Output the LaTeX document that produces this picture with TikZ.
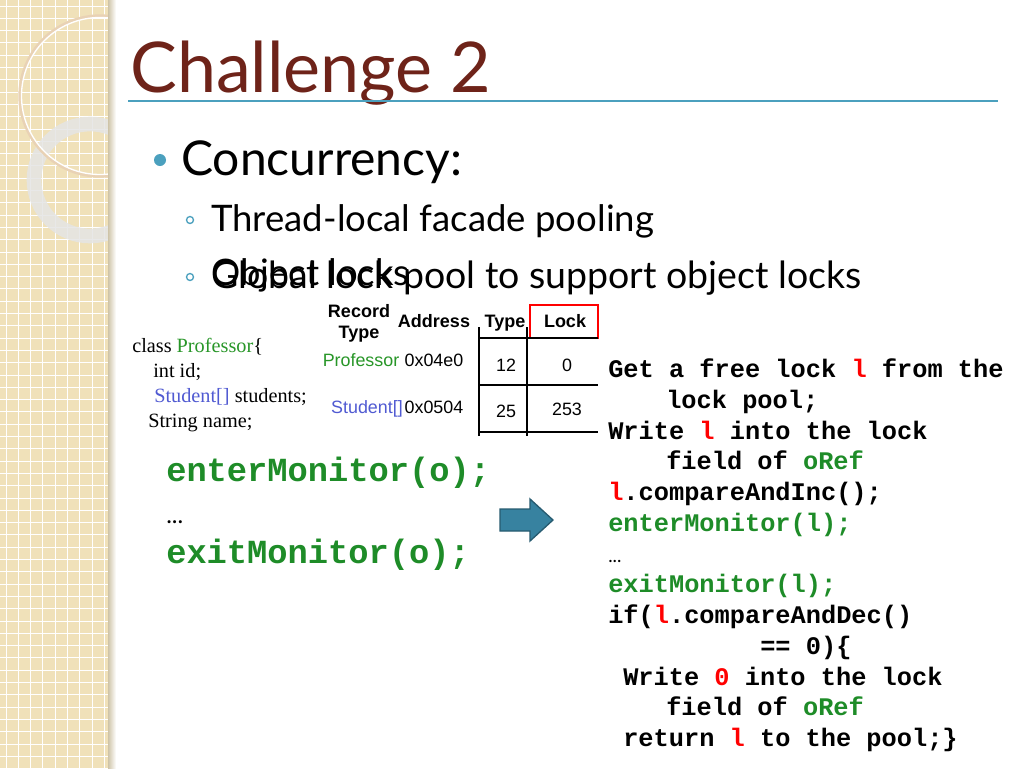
\documentclass[tikz,border=0pt]{standalone}
\usepackage{fontspec}
\setmainfont{Lato}
\newfontfamily\cmono{Liberation Mono}
\newfontfamily\tsans{Liberation Sans}
\newfontfamily\tserif{Liberation Serif}
\definecolor{strip}{RGB}{240,225,185}
\definecolor{teal}{RGB}{75,160,190}
\definecolor{titlec}{RGB}{110,35,25}
\definecolor{cg}{RGB}{30,140,40}
\definecolor{pg}{RGB}{40,150,40}
\definecolor{sb}{RGB}{80,90,210}
\definecolor{arrf}{RGB}{55,130,160}
\begin{document}
\begin{tikzpicture}[x=0.75pt,y=-0.75pt,
  code/.style={anchor=base west,inner sep=0,font=\cmono\bfseries\fontsize{19}{19}\selectfont},
  lcode/.style={anchor=base west,inner sep=0,text=cg,font=\cmono\bfseries\fontsize{25.3}{25}\selectfont},
  tab/.style={anchor=base,inner sep=0,font=\tsans\fontsize{13.4}{15}\selectfont},
  hd/.style={anchor=base,inner sep=0,font=\tsans\bfseries\fontsize{13.5}{15}\selectfont},
  ser/.style={anchor=base west,inner sep=0,font=\tserif\fontsize{15.2}{16}\selectfont}]
\useasboundingbox (0,0) rectangle (1024,768);
\fill[white] (0,0) rectangle (1024,768);
% strip
\fill[strip] (0,0) rectangle (112,768);
\foreach \i in {0,...,9} {\draw[white,line width=0.7] (\i*12.3+6,0) -- (\i*12.3+6,768);}
\foreach \i in {0,...,63} {\draw[white,line width=0.7] (0,\i*12.3+6) -- (112,\i*12.3+6);}
\begin{scope}
\clip (0,0) rectangle (112,768);
\draw[line width=11,gray!20,opacity=0.85] (90,180) circle (56);
\draw[line width=2.5,white!60!brown!70!strip] (100,96) circle (80);
\draw[line width=1,white] (100,96) circle (78.5);
\end{scope}
\fill[left color=strip!70!gray,right color=white] (108,0) rectangle (116,768);
% title
\node[anchor=base west,inner sep=0,text=titlec,font=\fontsize{52.5}{52}\selectfont] (title) at (130,92) {Challenge 2};
\draw[teal,line width=1.2] (128,101) -- (998,101);
\fill[teal] (160,160) circle (6) coordinate (b1);
\node[anchor=base west,inner sep=0,font=\fontsize{36}{36}\selectfont] (conc) at (181,175) {Concurrency:};
\draw[teal,line width=1] (190,220) circle (3.5);
\draw[teal,line width=1] (190,277) circle (3.5);
\node[anchor=base west,inner sep=0,font=\fontsize{27.4}{27}\selectfont] (s1) at (211,231) {Thread-local facade pooling};
\node[anchor=base west,inner sep=0,font=\fontsize{28.1}{28}\selectfont] (s2) at (211,288) {Global lock pool to support object locks};
\node[anchor=base west,inner sep=0,font=\fontsize{27.4}{27}\selectfont] (s3) at (211,285) {Object locks};
% class
\node[ser] (c1) at (132,352) {class \textcolor{pg}{Professor}\{};
\node[ser] (c2) at (153,377) {int id;};
\node[ser] (c3) at (154,402) {\textcolor{sb}{Student[]} students;};
\node[ser] (c4) at (148,427) {String name;};
% table
\node[hd] (h1a) at (359,317) {Record};
\node[hd] (h1b) at (359,338) {Type};
\node[hd] (h2) at (434,327) {Address};
\node[hd] (h3) at (505,327) {Type};
\node[hd] (h4) at (565,327) {Lock};
\draw[red,line width=1.5] (530,305) rectangle (598,338);
\draw[line width=1] (479,327) -- (479,436) (527,327) -- (527,436);
\draw[line width=1] (479,338) -- (598,338) (479,385) -- (598,385) (479,432) -- (598,432);
\node[tab,text=pg] (r1a) at (361,366) {Professor};
\node[tab] (r1b) at (434,366) {0x04e0};
\node[tab] (r1c) at (506,371) {12};
\node[tab] (r1d) at (567,371) {0};
\node[tab,text=sb] (r2a) at (367,413) {Student[]};
\node[tab] (r2b) at (434,413) {0x0504};
\node[tab] (r2c) at (506,417) {25};
\node[tab] (r2d) at (567,415) {253};
% left code
\node[lcode] (l1) at (166,481) {enterMonitor(o);};
\node[anchor=base west,inner sep=0,font=\fontsize{18}{18}\selectfont] (l2) at (166,523) {...};
\node[lcode] (l3) at (166,563) {exitMonitor(o);};
% arrow
\draw[fill=arrf,draw=arrf!70!black,line width=1] (500,509) -- (530,509) -- (530,499) -- (553,520) -- (530,541) -- (530,531) -- (500,531) -- cycle;
% right code
\node[code] (k1) at (608,377) {Get a free lock \textcolor{red}{l} from the};
\node[code] (k2) at (666,408) {lock pool;};
\node[code] (k3) at (608,439) {Write \textcolor{red}{l} into the lock};
\node[code] (k4) at (666,469) {field of \textcolor{cg}{oRef}};
\node[code] (k5) at (608,500) {\textcolor{red}{l}.compareAndInc();};
\node[code,text=cg] (k6) at (608,531) {enterMonitor(l);};
\node[anchor=base west,inner sep=0,font=\fontsize{14}{14}\selectfont] (k7) at (608,562) {...};
\node[code,text=cg] (k8) at (608,592) {exitMonitor(l);};
\node[code] (k9) at (608,623) {if(\textcolor{red}{l}.compareAndDec()};
\node[code] (k10) at (760,654) {== 0)\{};
\node[code] (k11) at (623,685) {Write \textcolor{red}{0} into the lock};
\node[code] (k12) at (666,715) {field of \textcolor{cg}{oRef}};
\node[code] (k13) at (623,746) {return \textcolor{red}{l} to the pool;\}};
\end{tikzpicture}
\end{document}
